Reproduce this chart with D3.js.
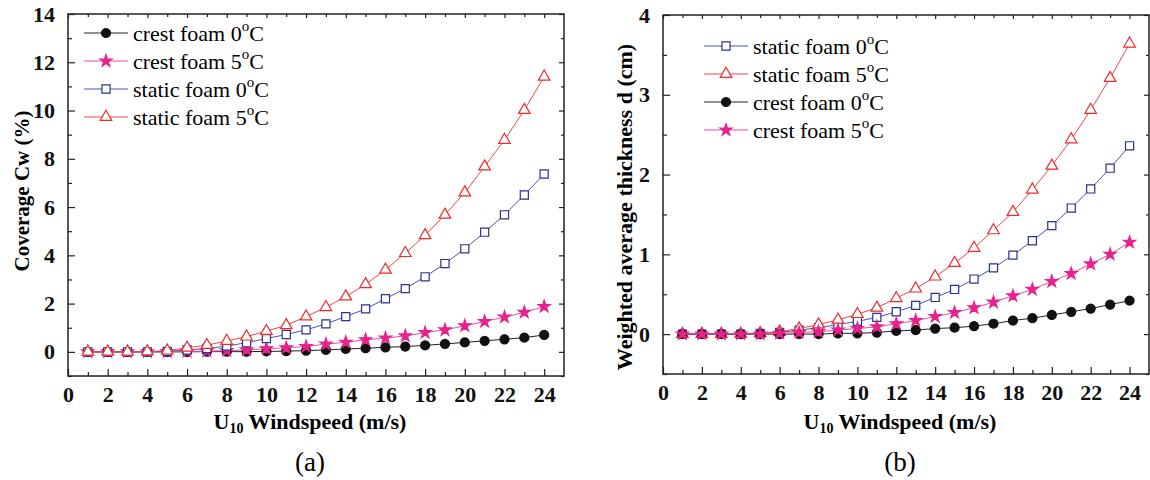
<!DOCTYPE html>
<html>
<head>
<meta charset="utf-8">
<script src="https://cdn.jsdelivr.net/npm/d3@7"></script>
<style>
  body { margin: 0; background: #fff; }
  svg text { font-family: "Liberation Serif", "Times New Roman", serif; }
</style>
</head>
<body>
<div id="chart"></div>
<script>
// wind speed (m/s)
var windSpeed = [1,2,3,4,5,6,7,8,9,10,11,12,13,14,15,16,17,18,19,20,21,22,23,24];

// (a) coverage Cw (%)
var coverCrest0  = [0,0,0,0,0,0,0.01,0.01,0.01,0.02,0.03,0.05,0.08,0.12,0.15,0.19,0.22,0.27,0.33,0.39,0.46,0.52,0.59,0.70];
var coverCrest5  = [0,0,0,0,0.01,0.02,0.03,0.05,0.08,0.13,0.17,0.22,0.32,0.40,0.50,0.57,0.66,0.80,0.91,1.08,1.26,1.44,1.64,1.88];
var coverStatic0 = [0,0,0,0,0.02,0.08,0.14,0.24,0.38,0.55,0.72,0.91,1.16,1.46,1.78,2.20,2.62,3.11,3.66,4.27,4.96,5.68,6.50,7.37];
var coverStatic5 = [0,0,0,0.01,0.05,0.17,0.28,0.45,0.63,0.86,1.10,1.46,1.85,2.29,2.80,3.40,4.09,4.83,5.68,6.60,7.68,8.78,10.02,11.40];

// (b) weighted average thickness d (cm)
var thickStatic0 = [0,0,0,0,0.01,0.02,0.05,0.08,0.12,0.16,0.21,0.28,0.36,0.46,0.56,0.69,0.83,0.99,1.17,1.36,1.58,1.82,2.08,2.36];
var thickStatic5 = [0,0,0,0,0.01,0.03,0.07,0.12,0.18,0.25,0.33,0.45,0.57,0.72,0.89,1.08,1.30,1.53,1.81,2.11,2.44,2.81,3.21,3.64];
var thickCrest0  = [0,0,0,0,0,0,0,0,0.01,0.01,0.02,0.04,0.05,0.07,0.08,0.10,0.13,0.17,0.20,0.24,0.28,0.32,0.37,0.42];
var thickCrest5  = [0,0,0,0,0,0.01,0.02,0.03,0.05,0.07,0.09,0.13,0.17,0.22,0.27,0.33,0.40,0.48,0.56,0.66,0.76,0.88,1.00,1.15];

var xTicks = [0,2,4,6,8,10,12,14,16,18,20,22,24];
var coverTicks = [0,2,4,6,8,10,12,14];
var thickTicks = [0,1,2,3,4];

var W = 1150, H = 480;
var svg = d3.select('#chart').append('svg')
    .attr('width', W)
    .attr('height', H);

// series styles
var styles = {
    crest0:  {color: "#111111", line: "#222222", shape: "circle",   fill: "#111111", label: "crest foam 0"},
    crest5:  {color: "#e8228c", line: "#ee4fa0", shape: "star",     fill: "#e8228c", label: "crest foam 5"},
    static0: {color: "#2b3191", line: "#4a55b0", shape: "square",   fill: "#ffffff", label: "static foam 0"},
    static5: {color: "#ee2a2a", line: "#f04848", shape: "triangle", fill: "#ffffff", label: "static foam 5"}
};

function symbolPath(shape) {
    if (shape == "circle") return d3.symbol(d3.symbolCircle, 64)();
    if (shape == "star") return d3.symbol(d3.symbolStar, 46)();
    if (shape == "square") return d3.symbol(d3.symbolSquare, 66)();
    return d3.symbol(d3.symbolTriangle, 58)();
}

function drawMarker(g, key, x, y) {
    let s = styles[key];
    g.append("path")
        .attr("d", symbolPath(s.shape))
        .attr("transform", "translate(" + x + "," + y + ")")
        .attr("fill", s.fill)
        .attr("stroke", s.color)
        .attr("stroke-width", 1.2);
}

function legendText(g, x, y, label) {
    let t = g.append("text")
        .attr("x", x).attr("y", y)
        .attr("font-size", 22);
    t.append("tspan").text(label);
    t.append("tspan").attr("dy", -10).attr("font-size", 15).text("o");
    t.append("tspan").attr("dy", 10).text("C");
}

function drawPanel(p) {
    let x = d3.scaleLinear().domain([0, 25]).range([p.left, p.right]);
    let y = d3.scaleLinear().domain(p.yDomain).range([p.bottom, p.top]);
    let g = svg.append("g");

    // minor ticks
    let xMinor = d3.range(0, 25, 1).filter(v => xTicks.indexOf(v) < 0);
    let yMinor = p.yMinor;

    let bottomAxis = d3.axisBottom(x).tickValues(xTicks).tickSizeInner(-7).tickSizeOuter(0).tickPadding(10);
    let gx = g.append("g").attr("transform", "translate(0," + p.bottom + ")").call(bottomAxis);
    gx.selectAll("text").attr("font-size", 22).attr("font-weight", "bold").attr("fill", "#111");
    g.append("g").attr("transform", "translate(0," + p.bottom + ")")
        .call(d3.axisBottom(x).tickValues(xMinor).tickSizeInner(-4).tickSizeOuter(0).tickFormat(""));
    g.append("g").attr("transform", "translate(0," + p.top + ")")
        .call(d3.axisTop(x).tickValues(xTicks).tickSizeInner(-4).tickSizeOuter(0).tickFormat(""));
    g.append("g").attr("transform", "translate(0," + p.top + ")")
        .call(d3.axisTop(x).tickValues(xMinor).tickSizeInner(-3).tickSizeOuter(0).tickFormat(""));

    let leftAxis = d3.axisLeft(y).tickValues(p.yTicks).tickFormat(d3.format("d"))
        .tickSizeInner(-7).tickSizeOuter(0).tickPadding(13);
    let gy = g.append("g").attr("transform", "translate(" + p.left + ",0)").call(leftAxis);
    gy.selectAll("text").attr("font-size", 22).attr("font-weight", "bold").attr("fill", "#111");
    g.append("g").attr("transform", "translate(" + p.left + ",0)")
        .call(d3.axisLeft(y).tickValues(yMinor).tickSizeInner(-4).tickSizeOuter(0).tickFormat(""));
    g.append("g").attr("transform", "translate(" + p.right + ",0)")
        .call(d3.axisRight(y).tickValues(p.yTicks).tickSizeInner(-5).tickSizeOuter(0).tickFormat(""));
    g.append("g").attr("transform", "translate(" + p.right + ",0)")
        .call(d3.axisRight(y).tickValues(yMinor).tickSizeInner(-3).tickSizeOuter(0).tickFormat(""));

    g.selectAll(".domain").remove();
    g.selectAll(".tick line").attr("stroke", "#222").attr("stroke-width", 1.2);

    // frame
    g.append("rect")
        .attr("x", p.left).attr("y", p.top)
        .attr("width", p.right - p.left).attr("height", p.bottom - p.top)
        .attr("fill", "none").attr("stroke", "#222").attr("stroke-width", 1.5);

    // series
    let line = d3.line().x((d, i) => x(windSpeed[i])).y(d => y(d));
    for (let s of p.series) {
        g.append("path")
            .datum(s.values)
            .attr("d", line)
            .attr("fill", "none")
            .attr("stroke", styles[s.key].line)
            .attr("stroke-width", 1);
        s.values.forEach((v, i) => drawMarker(g, s.key, x(windSpeed[i]), y(v)));
    }

    // legend
    p.series.forEach((s, i) => {
        let ly = p.legendY + i * p.legendStep;
        g.append("line")
            .attr("x1", p.legendX).attr("x2", p.legendX + 44)
            .attr("y1", ly).attr("y2", ly)
            .attr("stroke", styles[s.key].line).attr("stroke-width", 1.2);
        drawMarker(g, s.key, p.legendX + 22, ly);
        legendText(g, p.legendX + 49, ly + 8, styles[s.key].label);
    });

    // axis titles
    let cx = (p.left + p.right) / 2 - 6;
    let xt = g.append("text")
        .attr("x", cx).attr("y", 429)
        .attr("text-anchor", "middle")
        .attr("font-size", 22).attr("font-weight", "bold");
    xt.append("tspan").text("U");
    xt.append("tspan").attr("dy", 4).attr("font-size", 14).text("10");
    xt.append("tspan").attr("dy", -4).text(" Windspeed (m/s)");

    g.append("text")
        .attr("transform", "translate(" + p.yTitleX + "," + p.yTitleY + ") rotate(-90)")
        .attr("text-anchor", "middle")
        .attr("font-size", p.yTitleSize).attr("font-weight", "bold")
        .text(p.yTitle);

    g.append("text")
        .attr("x", cx).attr("y", 471)
        .attr("text-anchor", "middle")
        .attr("font-size", 27)
        .text(p.caption);
}

drawPanel({
    left: 68, right: 564, top: 14, bottom: 376,
    yDomain: [-1, 14], yTicks: coverTicks, yMinor: [-1,1,3,5,7,9,11,13],
    series: [
        {key: "crest0", values: coverCrest0},
        {key: "crest5", values: coverCrest5},
        {key: "static0", values: coverStatic0},
        {key: "static5", values: coverStatic5}
    ],
    legendX: 84, legendY: 33, legendStep: 28,
    yTitle: "Coverage Cw (%)", yTitleX: 29, yTitleY: 191, yTitleSize: 21,
    caption: "(a)"
});

drawPanel({
    left: 663, right: 1149, top: 15, bottom: 374,
    yDomain: [-0.5, 4], yTicks: thickTicks, yMinor: [-0.5,0.5,1.5,2.5,3.5],
    series: [
        {key: "static0", values: thickStatic0},
        {key: "static5", values: thickStatic5},
        {key: "crest0", values: thickCrest0},
        {key: "crest5", values: thickCrest5}
    ],
    legendX: 704, legendY: 46, legendStep: 28,
    yTitle: "Weighted average thickness d (cm)", yTitleX: 632, yTitleY: 207, yTitleSize: 22,
    caption: "(b)"
});
</script>
</body>
</html>
